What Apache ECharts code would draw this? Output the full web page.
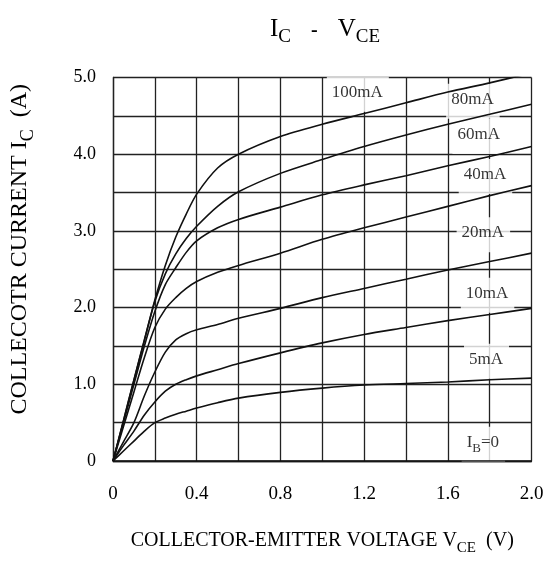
<!DOCTYPE html>
<html>
<head>
<meta charset="utf-8">
<script src="https://cdn.jsdelivr.net/npm/echarts@6/dist/echarts.min.js"></script>
<style>
html,body{margin:0;padding:0;background:#fff;}
#c{width:549px;height:561px;}
</style>
</head>
<body>
<div id="c"></div>
<script>
// ---- data ----
const vce = [0, 0.05, 0.1, 0.15, 0.2, 0.25, 0.3, 0.35, 0.4, 0.5, 0.6, 0.8, 1.0, 1.2, 1.4, 1.6, 1.8, 2.0];
const ic100mA = [0, 0.53, 1.06, 1.58, 2.10, 2.55, 2.92, 3.22, 3.48, 3.82, 4.00, 4.23, 4.39, 4.53, 4.67, 4.81, 4.93, 5.06];
const ic80mA  = [0, 0.52, 1.05, 1.57, 2.08, 2.44, 2.70, 2.90, 3.06, 3.32, 3.51, 3.75, 3.93, 4.10, 4.25, 4.39, 4.52, 4.65];
const ic60mA  = [0, 0.50, 1.00, 1.50, 1.95, 2.30, 2.52, 2.72, 2.87, 3.04, 3.15, 3.31, 3.47, 3.60, 3.72, 3.85, 3.97, 4.10];
const ic40mA  = [0, 0.45, 0.90, 1.35, 1.74, 1.98, 2.13, 2.25, 2.34, 2.46, 2.55, 2.71, 2.89, 3.04, 3.18, 3.32, 3.46, 3.59];
const ic20mA  = [0, 0.25, 0.50, 0.85, 1.16, 1.42, 1.58, 1.66, 1.71, 1.78, 1.86, 1.99, 2.13, 2.25, 2.37, 2.49, 2.60, 2.71];
const ic10mA  = [0, 0.20, 0.39, 0.60, 0.77, 0.91, 1.00, 1.06, 1.11, 1.19, 1.27, 1.41, 1.54, 1.65, 1.74, 1.83, 1.91, 1.99];
const ic5mA   = [0, 0.13, 0.26, 0.39, 0.50, 0.56, 0.61, 0.65, 0.69, 0.76, 0.82, 0.895, 0.95, 0.99, 1.01, 1.03, 1.06, 1.08];
const ic0mA   = [0, 0, 0, 0, 0, 0, 0, 0, 0, 0, 0, 0, 0, 0, 0, 0, 0, 0];

const seriesNames = ['100mA', '80mA', '60mA', '40mA', '20mA', '10mA', '5mA', 'IB=0'];
const seriesValues = [ic100mA, ic80mA, ic60mA, ic40mA, ic20mA, ic10mA, ic5mA, ic0mA];

// curve labels (anchor in data units)
const labelTexts = ['100mA', '80mA', '60mA', '40mA', '20mA', '10mA', '5mA', 'IB=0'];
const labelVce = [1.17, 1.72, 1.75, 1.78, 1.77, 1.79, 1.785, 1.77];
const labelIc  = [4.78, 4.69, 4.23, 3.71, 2.95, 2.16, 1.30, 0.22];

const xTickValues = [0, 0.4, 0.8, 1.2, 1.6, 2.0];
const xTickLabels = ['0', '0.4', '0.8', '1.2', '1.6', '2.0'];
const yTickValues = [0, 1, 2, 3, 4, 5];
const yTickLabels = ['0', '1.0', '2.0', '3.0', '4.0', '5.0'];

// ---- chart ----
const FONT = "'Liberation Serif', 'Times New Roman', serif";
const chart = echarts.init(document.getElementById('c'), null, {renderer: 'canvas'});

function tickLabel(values, labels) {
  return function (v) {
    for (let i = 0; i < values.length; i++) {
      if (Math.abs(values[i] - v) < 1e-6) return labels[i];
    }
    return '';
  };
}

const lineSeries = seriesNames.map(function (name, k) {
  return {
    name: name,
    type: 'line',
    z: 3,
    data: vce.map(function (v, i) { return [v, seriesValues[k][i]]; }),
    showSymbol: false,
    smooth: 0.3,
    clip: true,
    lineStyle: {color: '#111', width: 1.6},
    silent: true
  };
});

const labelSeries = {
  type: 'scatter',
  z: 1,
  symbolSize: 0,
  silent: true,
  data: labelTexts.map(function (t, i) { return {name: t, value: [labelVce[i], labelIc[i]]}; }),
  label: {
    show: true,
    position: 'inside',
    formatter: function (p) {
      if (p.name === 'IB=0') return '{n|I}{s|B}{n|=0}';
      return '{n|' + p.name + '}';
    },
    backgroundColor: '#fff',
    padding: [7, 6, 7, 5],
    rich: {
      n: {fontFamily: FONT, fontSize: 17, color: '#000', verticalAlign: 'bottom', padding: [0, 0, 4, 0]},
      s: {fontFamily: FONT, fontSize: 13, color: '#000', verticalAlign: 'bottom'}
    }
  }
};

chart.setOption({
  animation: false,
  backgroundColor: '#fff',
  title: {
    text: '{i|I}{s|C}{d|    -    }{i|V}{s|CE}',
    left: 320,
    top: 12,
    textAlign: 'center',
    textStyle: {
      fontWeight: 'normal',
      rich: {
        i: {fontFamily: FONT, fontSize: 25, fontWeight: 'normal', color: '#000', verticalAlign: 'bottom', padding: [0, 0, 5, 0]},
        s: {fontFamily: FONT, fontSize: 19, fontWeight: 'normal', color: '#000', verticalAlign: 'bottom'},
        d: {fontFamily: FONT, fontSize: 20, fontWeight: 'bold', color: '#000', verticalAlign: 'bottom', padding: [0, 0, 6, 0]}
      }
    }
  },
  grid: {left: 110, right: 17.5, top: 77.5, bottom: 94, containLabel: false},
  xAxis: {
    type: 'value',
    min: 0, max: 2.0, interval: 0.2,
    name: '{n|COLLECTOR-EMITTER VOLTAGE V}{s|CE}{n|  (V)}',
    nameLocation: 'middle',
    nameGap: 70,
    nameTextStyle: {
      rich: {
        n: {fontFamily: FONT, fontSize: 20, color: '#000', verticalAlign: 'bottom', padding: [0, 0, 5, 0]},
        s: {fontFamily: FONT, fontSize: 15, color: '#000', verticalAlign: 'bottom'}
      }
    },
    axisLine: {show: true, lineStyle: {color: '#222', width: 1.3}},
    axisTick: {show: false},
    axisLabel: {
      formatter: tickLabel(xTickValues, xTickLabels),
      fontFamily: FONT, fontSize: 19, color: '#000', margin: 24
    },
    splitLine: {show: true, lineStyle: {color: '#222', width: 1.3}}
  },
  yAxis: {
    type: 'value',
    min: 0, max: 5.0, interval: 0.5,
    name: '{n|COLLECOTR CURRENT I}{s|C}{n|  (A)}',
    nameLocation: 'middle',
    nameGap: 76,
    nameTextStyle: {
      padding: [0, 0, 0, 40],
      rich: {
        n: {fontFamily: FONT, fontSize: 24, color: '#000', verticalAlign: 'bottom', padding: [0, 0, 5, 0]},
        s: {fontFamily: FONT, fontSize: 18, color: '#000', verticalAlign: 'bottom'}
      }
    },
    axisLine: {show: true, lineStyle: {color: '#222', width: 1.3}},
    axisTick: {show: false},
    axisLabel: {
      formatter: tickLabel(yTickValues, yTickLabels),
      fontFamily: FONT, fontSize: 18, color: '#000', margin: 17
    },
    splitLine: {show: true, lineStyle: {color: '#222', width: 1.3}}
  },
  series: lineSeries.concat([labelSeries])
});
</script>
</body>
</html>
